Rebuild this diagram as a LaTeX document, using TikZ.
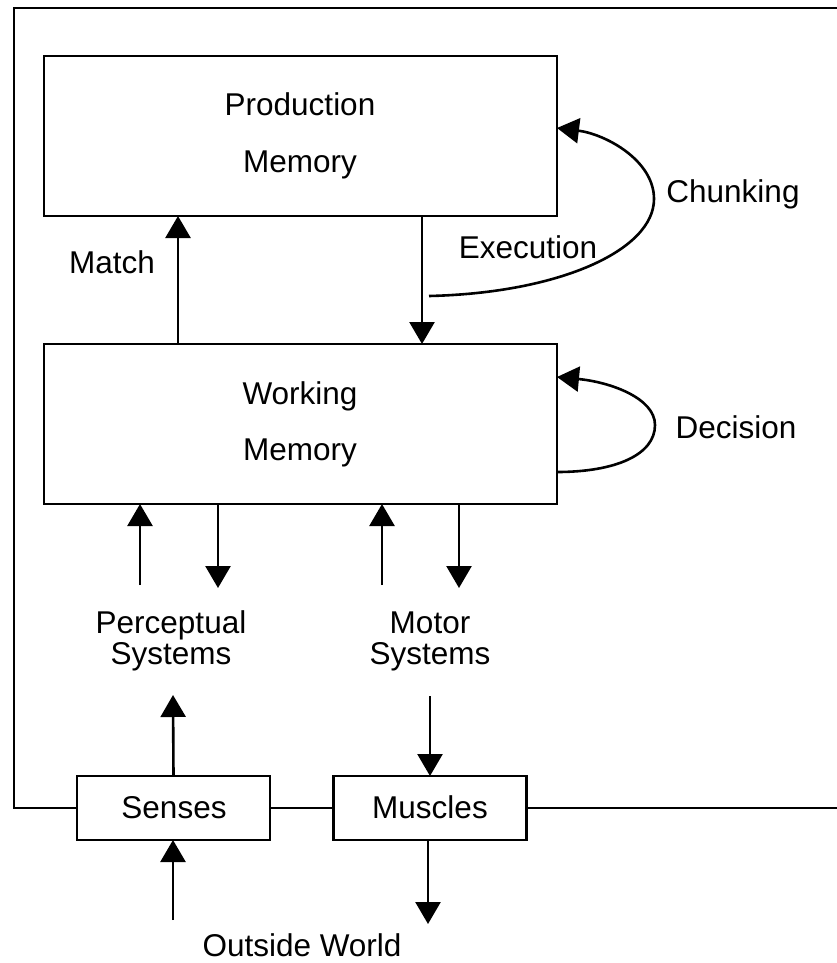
\documentclass[tikz,border=0pt]{standalone}
\usepackage{fontspec}
\setmainfont{Liberation Sans}
\usetikzlibrary{arrows.meta}

\tikzset{
  lbl/.style={font=\fontsize{31.5}{31}\selectfont, inner sep=0pt, outer sep=0pt, anchor=base, align=center},
  membox/.style={draw, line width=2.6pt, minimum width=513pt, minimum height=160pt, inner sep=0pt, outer sep=0pt},
  smallbox/.style={draw, line width=2.6pt, minimum width=193pt, minimum height=64pt, inner sep=0pt, outer sep=0pt},
  wire/.style={line width=2.6pt},
  arr/.style={wire, -{Triangle[width=25pt,length=22pt]}},
}

\begin{document}
\begin{tikzpicture}[x=1pt, y=-1pt]
  \useasboundingbox (0,0) rectangle (837,963);

  % memories
  \node[membox] (pm) at (300.5,136) {};
  \node[membox] (wm) at (300.5,424) {};
  \node[lbl] (pmA) at (300,116) {Production};
  \node[lbl] (pmB) at (300,172) {Memory};
  \node[lbl] (wmA) at (300,404) {Working};
  \node[lbl] (wmB) at (300,460) {Memory};

  % interface boxes
  \node[smallbox] (senses) at (173.5,808) {};
  \node[smallbox] (muscles) at (430,808) {};
  \node[lbl] (sensesT) at (174,818) {Senses};
  \node[lbl] (musclesT) at (430,818) {Muscles};

  % outer frame
  \coordinate (frTR) at (837,8);
  \coordinate (frTL) at (14,8);
  \coordinate (frBL) at (14,808);
  \coordinate (frBR) at (837,808);
  \draw[wire] (frTR) -- (frTL) -- (frBL) -- (senses.west);
  \draw[wire] (senses.east) -- (muscles.west);
  \draw[wire] (muscles.east) -- (frBR);

  % columns
  \coordinate (cMatch) at (178,0);
  \coordinate (cExec) at (422,0);
  \coordinate (cP1) at (140,0);
  \coordinate (cP2) at (218,0);
  \coordinate (cM1) at (382,0);
  \coordinate (cM2) at (459,0);

  % match / execution
  \draw[arr] (wm.north -| cMatch) -- (pm.south -| cMatch);
  \draw[arr] (pm.south -| cExec) -- (wm.north -| cExec);
  \node[lbl] (match) at (112,273) {Match};
  \node[lbl] (exec) at (528,258) {Execution};

  % chunking loop
  \coordinate (chS) at (429,296);
  \coordinate (chM) at (654,199);
  \coordinate (chE) at (557,128);
  \draw[arr] (chS) .. controls (560,293) and (654,250) .. (chM)
                   .. controls (654,160) and (605,134) .. (chE);
  \node[lbl] (chunk) at (733,202) {Chunking};

  % decision loop
  \coordinate (dcS) at (557,472);
  \coordinate (dcM) at (655,425);
  \coordinate (dcE) at (557,377);
  \draw[arr] (dcS) .. controls (615,472) and (655,455) .. (dcM)
                   .. controls (655,398) and (610,382) .. (dcE);
  \node[lbl] (decis) at (736,438) {Decision};

  % perceptual and motor systems
  \coordinate (pUp) at (140,585);
  \coordinate (pDn) at (218,588);
  \coordinate (mUp) at (382,585);
  \coordinate (mDn) at (459,588);
  \draw[arr] (pUp) -- (wm.south -| cP1);
  \draw[arr] (wm.south -| cP2) -- (pDn);
  \draw[arr] (mUp) -- (wm.south -| cM1);
  \draw[arr] (wm.south -| cM2) -- (mDn);
  \node[lbl] (perc) at (171,664) {Perceptual\\Systems};
  \node[lbl] (motor) at (430,664) {Motor\\Systems};

  % senses and muscles
  \coordinate (sUp) at (173,695);
  \coordinate (mTop) at (430,696);
  \draw[arr] (senses.north) -- (sUp);
  \draw[arr] (mTop) -- (muscles.north);

  % outside world
  \coordinate (owUp) at (173,920);
  \coordinate (owDn) at (428,924);
  \coordinate (cS) at (173,0);
  \coordinate (cMu) at (428,0);
  \draw[arr] (owUp) -- (senses.south -| cS);
  \draw[arr] (muscles.south -| cMu) -- (owDn);
  \node[lbl] (world) at (302,956) {Outside World};
\end{tikzpicture}
\end{document}
